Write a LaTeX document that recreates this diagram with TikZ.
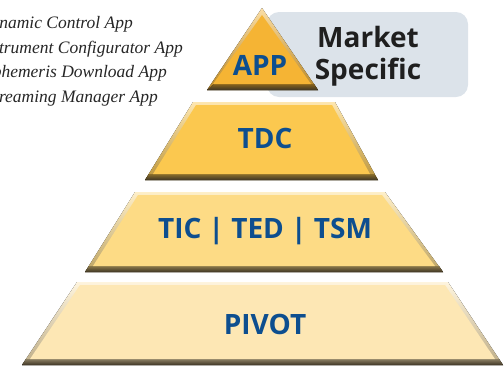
\documentclass[tikz,border=0pt]{standalone}
\usepackage{fontspec}
\setmainfont{Open Sans}
\newfontfamily\appfont{Liberation Serif}
\definecolor{txtblue}{HTML}{0D4E8F}
\definecolor{shadowc}{HTML}{3E3524}
\definecolor{boxgray}{HTML}{DCE3EA}
\definecolor{appc}{HTML}{F5B434}
\definecolor{tdcc}{HTML}{FBC84F}
\definecolor{ticc}{HTML}{FDDB85}
\definecolor{pivc}{HTML}{FDE7B4}
\tikzset{
  lbl/.style={font=\bfseries\fontsize{28}{32}\selectfont, text=txtblue, inner sep=0pt},
  applist/.style={font=\appfont\itshape\fontsize{17.5}{19}\selectfont, text=black!85, anchor=base east, inner sep=0pt},
}
\newcommand\pyrlayer[8]{%
  \fill[top color=#8!45!white, bottom color=#8!75!black]
    (#2,#4) -- (#3,#4) -- (#6,#7) -- (#5,#7) -- cycle;
  \fill[top color=#8!55!black, bottom color=shadowc]
    (#5+4,#7-6) -- (#6-4,#7-6) -- (#6,#7) -- (#5,#7) -- cycle;
  \fill[#8] (#2+3,#4+3) -- (#3-3,#4+3) -- (#6-8,#7-6) -- (#5+8,#7-6) -- cycle;
}
\begin{document}
\begin{tikzpicture}[x=1pt,y=-1pt]
\useasboundingbox (0,0) rectangle (504,365);
% market specific box
\fill[boxgray, rounded corners=12pt] (267,12) rectangle (468,97);
% APP triangle
\fill[top color=appc!45!white, bottom color=appc!75!black] (262,8) -- (318,90) -- (207,90) -- cycle;
\fill[top color=appc!55!black, bottom color=shadowc] (214,84) -- (314,84) -- (318,90) -- (207,90) -- cycle;
\fill[appc] (262,15) -- (311,84) -- (213,84) -- cycle;
% layers
\pyrlayer{tdc}{193}{335}{102}{145}{378}{180}{tdcc}
\pyrlayer{tic}{135}{385}{192}{85}{443}{272}{ticc}
\pyrlayer{piv}{77}{448}{282}{22}{503}{365}{pivc}
% labels
\node[lbl] (app) at (260,65) {APP};
\node[lbl, text=black!88, align=center] (market) at (368,56) {Market\\Specific};
\node[lbl] (tdc) at (265,138) {TDC};
\node[lbl] (tic) at (265,231) {TIC | TED | TSM};
\node[lbl] (pivot) at (265,324) {PIVOT};
% app list
\begin{scope}
\clip (0,0) rectangle (504,365);
\node[applist] (a1) at (133,28) {Dynamic Control App};
\node[applist] (a2) at (183,53) {Instrument Configurator App};
\node[applist] (a3) at (167,77) {Ephemeris Download App};
\node[applist] (a4) at (158,102) {Streaming Manager App};
\end{scope}
\end{tikzpicture}
\end{document}
